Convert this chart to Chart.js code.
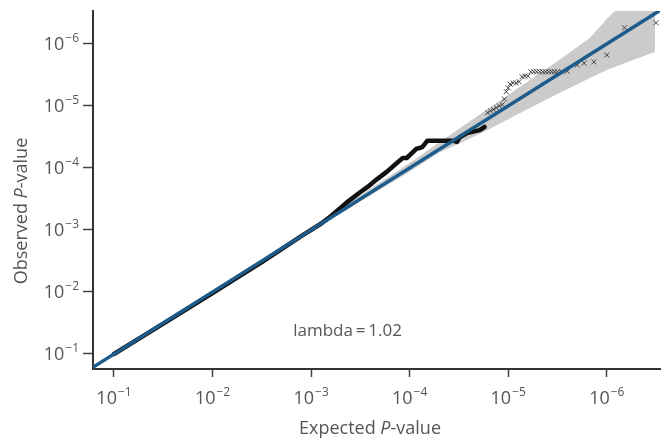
<!DOCTYPE html>
<html lang="en">
<head>
<meta charset="UTF-8">
<title>QQ plot</title>
<style>
  body { margin: 0; background: #fff; }
  .wrap { width: 670px; height: 448px; }
</style>
<script src="https://cdn.jsdelivr.net/npm/chart.js"></script>
</head>
<body>
<div class="wrap"><canvas id="qq" width="670" height="448"></canvas></div>
<script>
// all values are -log10(P)
var tickValues = [1, 2, 3, 4, 5, 6];
var tickExponents = ['\u22121', '\u22122', '\u22123', '\u22124', '\u22125', '\u22126'];

// dense part of the observed points (drawn as a thick line)
var denseExpected = [1.0, 1.5, 2.0, 2.5, 2.9, 3.1, 3.2, 3.36, 3.49, 3.57, 3.67, 3.77, 3.87, 3.93, 3.97, 4.07, 4.1, 4.13, 4.18, 4.44, 4.48, 4.51, 4.58, 4.71, 4.76];
var denseObserved = [1.0, 1.49, 1.98, 2.48, 2.9, 3.1, 3.22, 3.44, 3.6, 3.69, 3.82, 3.94, 4.08, 4.16, 4.16, 4.31, 4.32, 4.34, 4.44, 4.44, 4.42, 4.5, 4.56, 4.61, 4.66];

// sparse tail, drawn as x markers
var tailExpected = [4.79, 4.82, 4.85, 4.88, 4.91, 4.94, 4.96, 4.98, 5.0, 5.02, 5.05, 5.08, 5.11, 5.14, 5.17, 5.2,
                    5.23, 5.26, 5.29, 5.32, 5.35, 5.38, 5.41, 5.44, 5.47, 5.5, 5.54, 5.6, 5.7, 5.77, 5.87, 6.0, 6.18, 6.5];
var tailObserved = [4.89, 4.92, 4.94, 4.97, 5.0, 5.02, 5.11, 5.23, 5.29, 5.35, 5.37, 5.37, 5.39, 5.47, 5.48, 5.48,
                    5.55, 5.55, 5.55, 5.55, 5.55, 5.55, 5.55, 5.55, 5.55, 5.55, 5.55, 5.56, 5.66, 5.69, 5.71, 5.82, 6.26, 6.34];

// 95% confidence band
var bandExpected = [1.0, 2.0, 3.0, 3.5, 4.0, 4.3, 4.5, 4.8, 5.15, 5.5, 5.83, 6.0, 6.1, 6.3, 6.49];
var bandLower    = [0.995, 1.99, 2.97, 3.46, 3.94, 4.25, 4.39, 4.62, 4.91, 5.19, 5.45, 5.58, 5.64, 5.76, 5.87];
var bandUpper    = [1.005, 2.01, 3.03, 3.56, 4.08, 4.41, 4.63, 4.96, 5.34, 5.72, 6.10, 6.40, 6.56, 6.9, 7.3];

// null line y = x
var nullLine = [0.7, 6.6];

var lambdaLabel = 'lambda\u2009=\u20091.02';

function pts(xs, ys) {
    return xs.map(function (x, i) { return { x: x, y: ys[i] }; });
}

var textFont = '"Open Sans", "Liberation Sans", Arial, sans-serif';
var textColor = '#555';

// power-of-ten tick labels, axis titles with italic P, and the lambda note
var annotations = {
    id: 'annotations',
    afterDraw: function (chart) {
        var ctx = chart.ctx;
        var xs = chart.scales.x, ys = chart.scales.y;
        ctx.save();
        ctx.fillStyle = textColor;
        ctx.textBaseline = 'alphabetic';

        function power(exp, x, baseline, align) {
            ctx.font = '18px ' + textFont;
            var wb = ctx.measureText('10').width;
            ctx.font = '12px ' + textFont;
            var we = ctx.measureText(exp).width;
            var left = align === 'center' ? x - (wb + we + 1) / 2 : x - (wb + we + 1);
            ctx.textAlign = 'left';
            ctx.font = '18px ' + textFont;
            ctx.fillText('10', left, baseline);
            ctx.font = '12px ' + textFont;
            ctx.fillText(exp, left + wb + 1, baseline - 8);
        }
        tickValues.forEach(function (v, i) {
            power(tickExponents[i], xs.getPixelForValue(v), 404, 'center');
            power(tickExponents[i], 79, ys.getPixelForValue(v) + 6.5, 'right');
        });

        ctx.textBaseline = 'middle';
        function titled(cx, cy, first, rot) {
            var parts = [[first, ''], ['P', 'italic '], ['-value', '']];
            var w = 0;
            parts.forEach(function (p) { ctx.font = p[1] + '18px ' + textFont; w += ctx.measureText(p[0]).width; });
            ctx.save();
            ctx.translate(cx, cy);
            if (rot) ctx.rotate(-Math.PI / 2);
            var x = -w / 2;
            ctx.textAlign = 'left';
            parts.forEach(function (p) {
                ctx.font = p[1] + '18px ' + textFont;
                ctx.fillText(p[0], x, 0);
                x += ctx.measureText(p[0]).width;
            });
            ctx.restore();
        }
        titled(370, 429, 'Expected ', false);
        titled(22, 211, 'Observed ', true);

        ctx.font = '17px ' + textFont;
        ctx.textAlign = 'center';
        ctx.fillText(lambdaLabel, xs.getPixelForValue(3.37), ys.getPixelForValue(1.37));
        ctx.restore();
    }
};

new Chart(document.getElementById('qq'), {
    type: 'scatter',
    data: {
        datasets: [
            {
                data: pts(bandExpected, bandLower),
                showLine: true, borderWidth: 0, pointRadius: 0,
                borderColor: 'rgba(0,0,0,0)', fill: false, order: 5
            },
            {
                data: pts(bandExpected, bandUpper),
                showLine: true, borderWidth: 0, pointRadius: 0,
                borderColor: 'rgba(0,0,0,0)', backgroundColor: '#cbcbcb',
                fill: '-1', order: 4
            },
            {
                data: pts(denseExpected, denseObserved),
                showLine: true, borderWidth: 4.5, borderColor: '#111',
                borderJoinStyle: 'round', borderCapStyle: 'round',
                pointRadius: 0, order: 3
            },
            {
                data: pts(tailExpected, tailObserved),
                pointStyle: 'crossRot', pointRadius: 3.5, borderWidth: 1,
                borderColor: '#444', backgroundColor: '#444', order: 2
            },
            {
                data: pts(nullLine, nullLine),
                showLine: true, borderWidth: 3.5, borderColor: '#1d5b8b',
                pointRadius: 0, clip: 0, order: 1
            }
        ]
    },
    options: {
        responsive: false,
        animation: false,
        devicePixelRatio: 1,
        layout: { padding: { top: 11, right: 10, left: 0, bottom: 0 } },
        plugins: { legend: { display: false }, tooltip: { enabled: false } },
        scales: {
            x: {
                type: 'linear', min: 0.787, max: 6.54,
                afterFit: function (s) { s.height = 79; },
                afterBuildTicks: function (s) { s.ticks = tickValues.map(function (v) { return { value: v }; }); },
                grid: { drawOnChartArea: false, drawTicks: true, tickLength: 8, tickColor: '#444', tickWidth: 1.5 },
                border: { display: true, color: '#333', width: 2 },
                ticks: { display: false }
            },
            y: {
                type: 'linear', min: 0.758, max: 6.53,
                afterFit: function (s) { s.width = 93; },
                afterBuildTicks: function (s) { s.ticks = tickValues.map(function (v) { return { value: v }; }); },
                grid: { drawOnChartArea: false, drawTicks: true, tickLength: 10, tickColor: '#444', tickWidth: 1.5 },
                border: { display: true, color: '#333', width: 2 },
                ticks: { display: false }
            }
        }
    },
    plugins: [annotations]
});
</script>
</body>
</html>
